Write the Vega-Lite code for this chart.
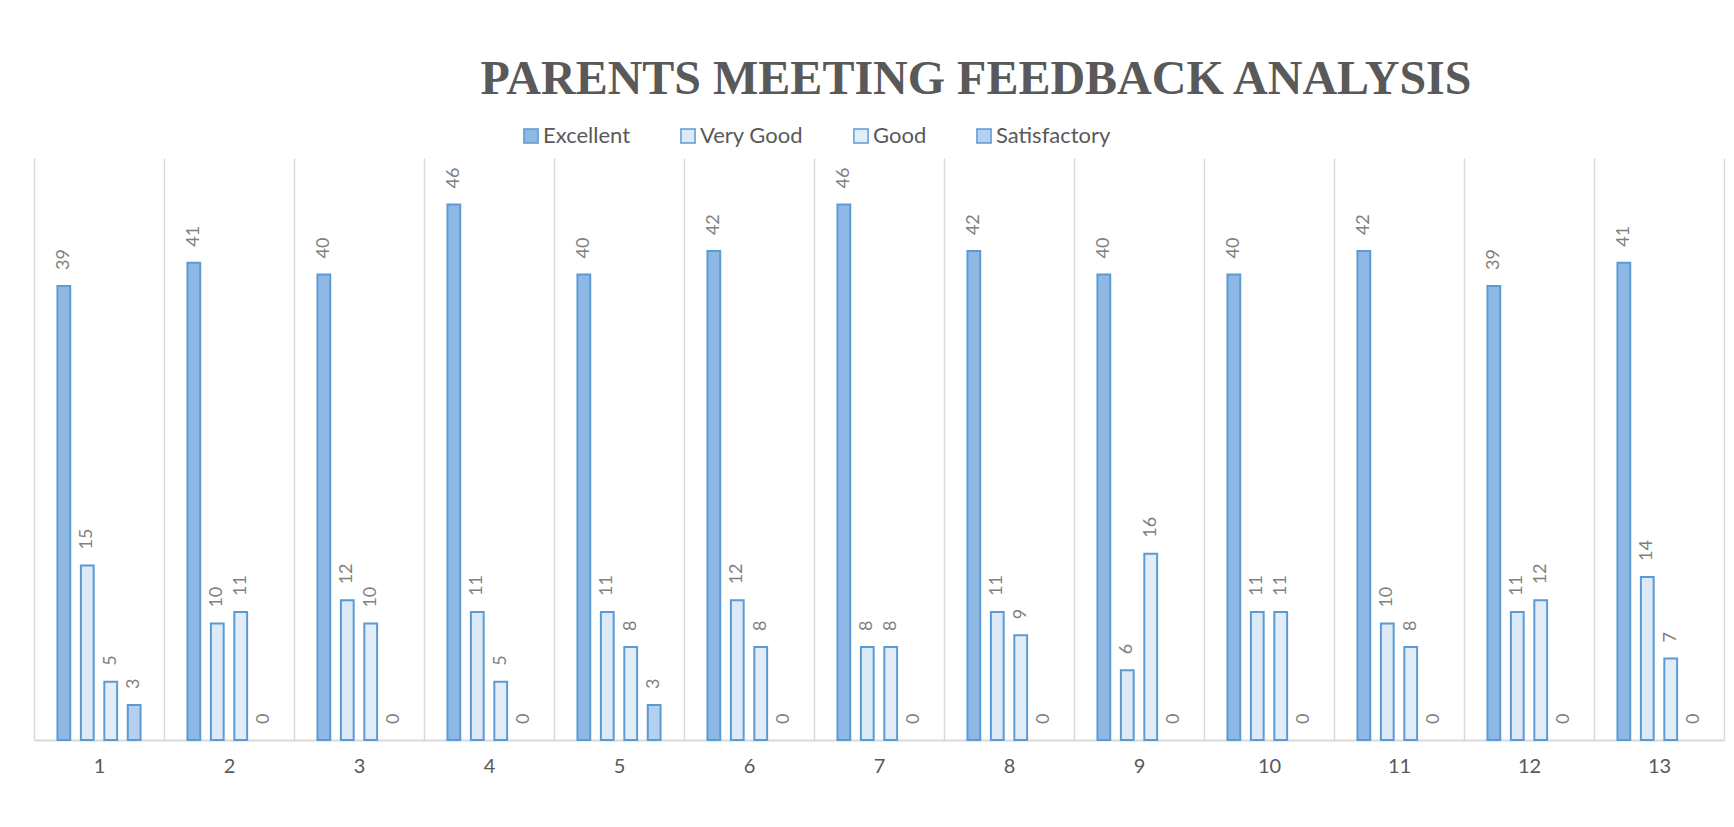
{
  "$schema": "https://vega.github.io/schema/vega-lite/v6.json",
  "width": 1690,
  "height": 582,
  "autosize": "none",
  "padding": {"left": 34, "top": 158, "right": 10, "bottom": 87},
  "background": "white",
  "config": {"view": {"stroke": null}},
  "title": {
    "text": "PARENTS MEETING FEEDBACK ANALYSIS",
    "font": "Liberation Serif",
    "fontSize": 48,
    "fontWeight": "bold",
    "color": "#595959",
    "anchor": "middle",
    "frame": "group",
    "offset": 66,
    "baseline": "alphabetic",
    "dx": 97,
    "dy": 83
  },
  "data": {
    "values": [
      {"group": 1, "series": "Excellent", "value": 39},
      {"group": 1, "series": "Very Good", "value": 15},
      {"group": 1, "series": "Good", "value": 5},
      {"group": 1, "series": "Satisfactory", "value": 3},
      {"group": 2, "series": "Excellent", "value": 41},
      {"group": 2, "series": "Very Good", "value": 10},
      {"group": 2, "series": "Good", "value": 11},
      {"group": 2, "series": "Satisfactory", "value": 0},
      {"group": 3, "series": "Excellent", "value": 40},
      {"group": 3, "series": "Very Good", "value": 12},
      {"group": 3, "series": "Good", "value": 10},
      {"group": 3, "series": "Satisfactory", "value": 0},
      {"group": 4, "series": "Excellent", "value": 46},
      {"group": 4, "series": "Very Good", "value": 11},
      {"group": 4, "series": "Good", "value": 5},
      {"group": 4, "series": "Satisfactory", "value": 0},
      {"group": 5, "series": "Excellent", "value": 40},
      {"group": 5, "series": "Very Good", "value": 11},
      {"group": 5, "series": "Good", "value": 8},
      {"group": 5, "series": "Satisfactory", "value": 3},
      {"group": 6, "series": "Excellent", "value": 42},
      {"group": 6, "series": "Very Good", "value": 12},
      {"group": 6, "series": "Good", "value": 8},
      {"group": 6, "series": "Satisfactory", "value": 0},
      {"group": 7, "series": "Excellent", "value": 46},
      {"group": 7, "series": "Very Good", "value": 8},
      {"group": 7, "series": "Good", "value": 8},
      {"group": 7, "series": "Satisfactory", "value": 0},
      {"group": 8, "series": "Excellent", "value": 42},
      {"group": 8, "series": "Very Good", "value": 11},
      {"group": 8, "series": "Good", "value": 9},
      {"group": 8, "series": "Satisfactory", "value": 0},
      {"group": 9, "series": "Excellent", "value": 40},
      {"group": 9, "series": "Very Good", "value": 6},
      {"group": 9, "series": "Good", "value": 16},
      {"group": 9, "series": "Satisfactory", "value": 0},
      {"group": 10, "series": "Excellent", "value": 40},
      {"group": 10, "series": "Very Good", "value": 11},
      {"group": 10, "series": "Good", "value": 11},
      {"group": 10, "series": "Satisfactory", "value": 0},
      {"group": 11, "series": "Excellent", "value": 42},
      {"group": 11, "series": "Very Good", "value": 10},
      {"group": 11, "series": "Good", "value": 8},
      {"group": 11, "series": "Satisfactory", "value": 0},
      {"group": 12, "series": "Excellent", "value": 39},
      {"group": 12, "series": "Very Good", "value": 11},
      {"group": 12, "series": "Good", "value": 12},
      {"group": 12, "series": "Satisfactory", "value": 0},
      {"group": 13, "series": "Excellent", "value": 41},
      {"group": 13, "series": "Very Good", "value": 14},
      {"group": 13, "series": "Good", "value": 7},
      {"group": 13, "series": "Satisfactory", "value": 0}
    ]
  },
  "encoding": {
    "x": {
      "field": "group",
      "type": "ordinal",
      "scale": {"paddingInner": 0, "paddingOuter": 0},
      "axis": {
        "title": null,
        "grid": true,
        "gridColor": "#d9d9d9",
        "gridWidth": 1.5,
        "tickBand": "extent",
        "ticks": false,
        "domainColor": "#d9d9d9",
        "domainWidth": 2,
        "labelFont": "Lato",
        "labelFontSize": 20,
        "labelColor": "#595959",
        "labelPadding": 16,
        "labelAngle": 0
      }
    },
    "xOffset": {
      "field": "series",
      "type": "nominal",
      "sort": ["Excellent", "Very Good", "Good", "Satisfactory"],
      "scale": {"paddingInner": 0.4545, "paddingOuter": 1.18}
    },
    "y": {
      "field": "value",
      "type": "quantitative",
      "scale": {"domain": [0, 50]},
      "axis": null
    }
  },
  "layer": [
    {
      "mark": {"type": "bar", "stroke": "#5b9bd5", "strokeWidth": 2},
      "encoding": {
        "fill": {
          "field": "series",
          "type": "nominal",
          "sort": ["Excellent", "Very Good", "Good", "Satisfactory"],
          "scale": {
            "domain": ["Excellent", "Very Good", "Good", "Satisfactory"],
            "range": ["#8fb9e4", "#dce9f7", "#e3edf8", "#b4d0ee"]
          },
          "legend": {
            "orient": "none",
            "legendX": 486,
            "legendY": -33,
            "direction": "horizontal",
            "title": null,
            "labelFont": "Lato",
            "labelFontSize": 22,
            "labelColor": "#595959",
            "symbolType": "square",
            "symbolSize": 200,
            "symbolStrokeColor": "#5b9bd5",
            "symbolStrokeWidth": 1.5,
            "columnPadding": 46,
            "labelOffset": 1
          }
        },
        "strokeOpacity": {"condition": {"test": "datum.value > 0", "value": 1}, "value": 0}
      }
    },
    {
      "mark": {
        "type": "text",
        "angle": 270,
        "align": "left",
        "baseline": "middle",
        "dx": 16,
        "font": "Lato",
        "fontSize": 18,
        "color": "#7f7f7f"
      },
      "encoding": {
        "text": {"field": "value", "type": "quantitative"}
      }
    }
  ]
}
